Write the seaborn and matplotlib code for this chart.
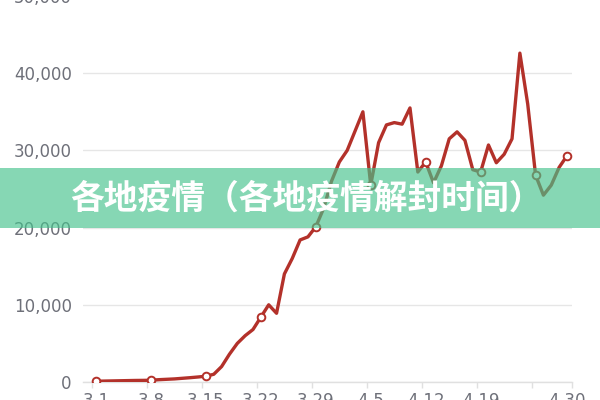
import matplotlib
matplotlib.use("Agg")
import matplotlib.pyplot as plt
from matplotlib.patches import Rectangle
from matplotlib.ticker import FuncFormatter
import seaborn as sns
from pandas import DataFrame

# daily cases, 3-1 .. 4-30
DAY_LABELS = ['3-1', '3-2', '3-3', '3-4', '3-5', '3-6', '3-7', '3-8', '3-9', '3-10',
              '3-11', '3-12', '3-13', '3-14', '3-15', '3-16', '3-17', '3-18', '3-19', '3-20',
              '3-21', '3-22', '3-23', '3-24', '3-25', '3-26', '3-27', '3-28', '3-29', '3-30',
              '3-31', '4-1', '4-2', '4-3', '4-4', '4-5', '4-6', '4-7', '4-8', '4-9',
              '4-10', '4-11', '4-12', '4-13', '4-14', '4-15', '4-16', '4-17', '4-18', '4-19',
              '4-20', '4-21', '4-22', '4-23', '4-24', '4-25', '4-26', '4-27', '4-28', '4-29',
              '4-30']
CASES = [100, 120, 140, 160, 180, 200, 210, 230, 300, 350,
         400, 480, 560, 650, 750, 1000, 2000, 3600, 5000, 6000,
         6800, 8400, 10000, 8900, 14000, 16000, 18400, 18800, 20100, 22500,
         26000, 28500, 30000, 32500, 35000, 25500, 31000, 33300, 33600, 33400,
         35500, 27200, 28500, 25800, 28000, 31500, 32400, 31300, 27500, 27200,
         30700, 28400, 29500, 31500, 42600, 36000, 26800, 24200, 25500, 27800,
         29300]
SHOWN_LABELS = [0, 7, 14, 21, 28, 35, 42, 49, 60]
MARKED = [0, 7, 14, 21, 28, 35, 42, 49, 56, 60]
Y_TICKS = [0, 10000, 20000, 30000, 40000, 50000]
TITLE = "各地疫情（各地疫情解封时间）"

df = DataFrame({'day': range(len(CASES)), 'cases': CASES})

sns.set_theme(style="white")
plt.rcParams['font.family'] = ['DejaVu Sans']

fig = plt.figure(figsize=(6, 4), dpi=100)
ax = fig.add_axes([0.1383, 0.045, 0.8145, 0.965])

sns.lineplot(data=df, x='day', y='cases', ax=ax, color='#b3312a', linewidth=2.4,
             marker='o', markevery=MARKED, markersize=5.5, markerfacecolor='white',
             markeredgecolor='#b3312a', markeredgewidth=1.4, zorder=3,
             solid_joinstyle='round', solid_capstyle='round')

ax.set_xlim(-1.66, 60.6)
ax.set_ylim(0, 50000)
ax.set_yticks(Y_TICKS)
ax.yaxis.set_major_formatter(FuncFormatter(lambda v, p: f"{int(v):,}"))
ax.set_xticks(SHOWN_LABELS)
ax.set_xticklabels([DAY_LABELS[i] for i in SHOWN_LABELS])
ax.set_xticks([k * 7 - 0.5 for k in range(9)] + [60.6], minor=True)
ax.tick_params(axis='y', length=0, pad=8, labelsize=12, labelcolor='#6e7079')
ax.tick_params(axis='x', which='major', length=0, pad=7, labelsize=12, labelcolor='#6e7079')
ax.tick_params(axis='x', which='minor', length=4, width=1, color='#e0e0e0', bottom=True)
ax.grid(axis='y', color='#e6e6e6', linewidth=1)
ax.set_xlabel('')
ax.set_ylabel('')
for side in ['top', 'right', 'left']:
    ax.spines[side].set_visible(False)
ax.spines['bottom'].set_color('#e0e0e0')
ax.spines['bottom'].set_linewidth(1)

# green banner with title across the middle
fig.add_artist(Rectangle((0, 0.43), 1, 0.15, transform=fig.transFigure,
                         facecolor=(69 / 255, 194 / 255, 140 / 255), alpha=0.65,
                         edgecolor='none', zorder=5))
fig.text(0.117, 0.505, TITLE, color='white', fontsize=24.3, fontweight=900,
         family=['Noto Sans CJK SC', 'DejaVu Sans'], va='center', ha='left', zorder=6)

fig.savefig("out.png", dpi=100)
